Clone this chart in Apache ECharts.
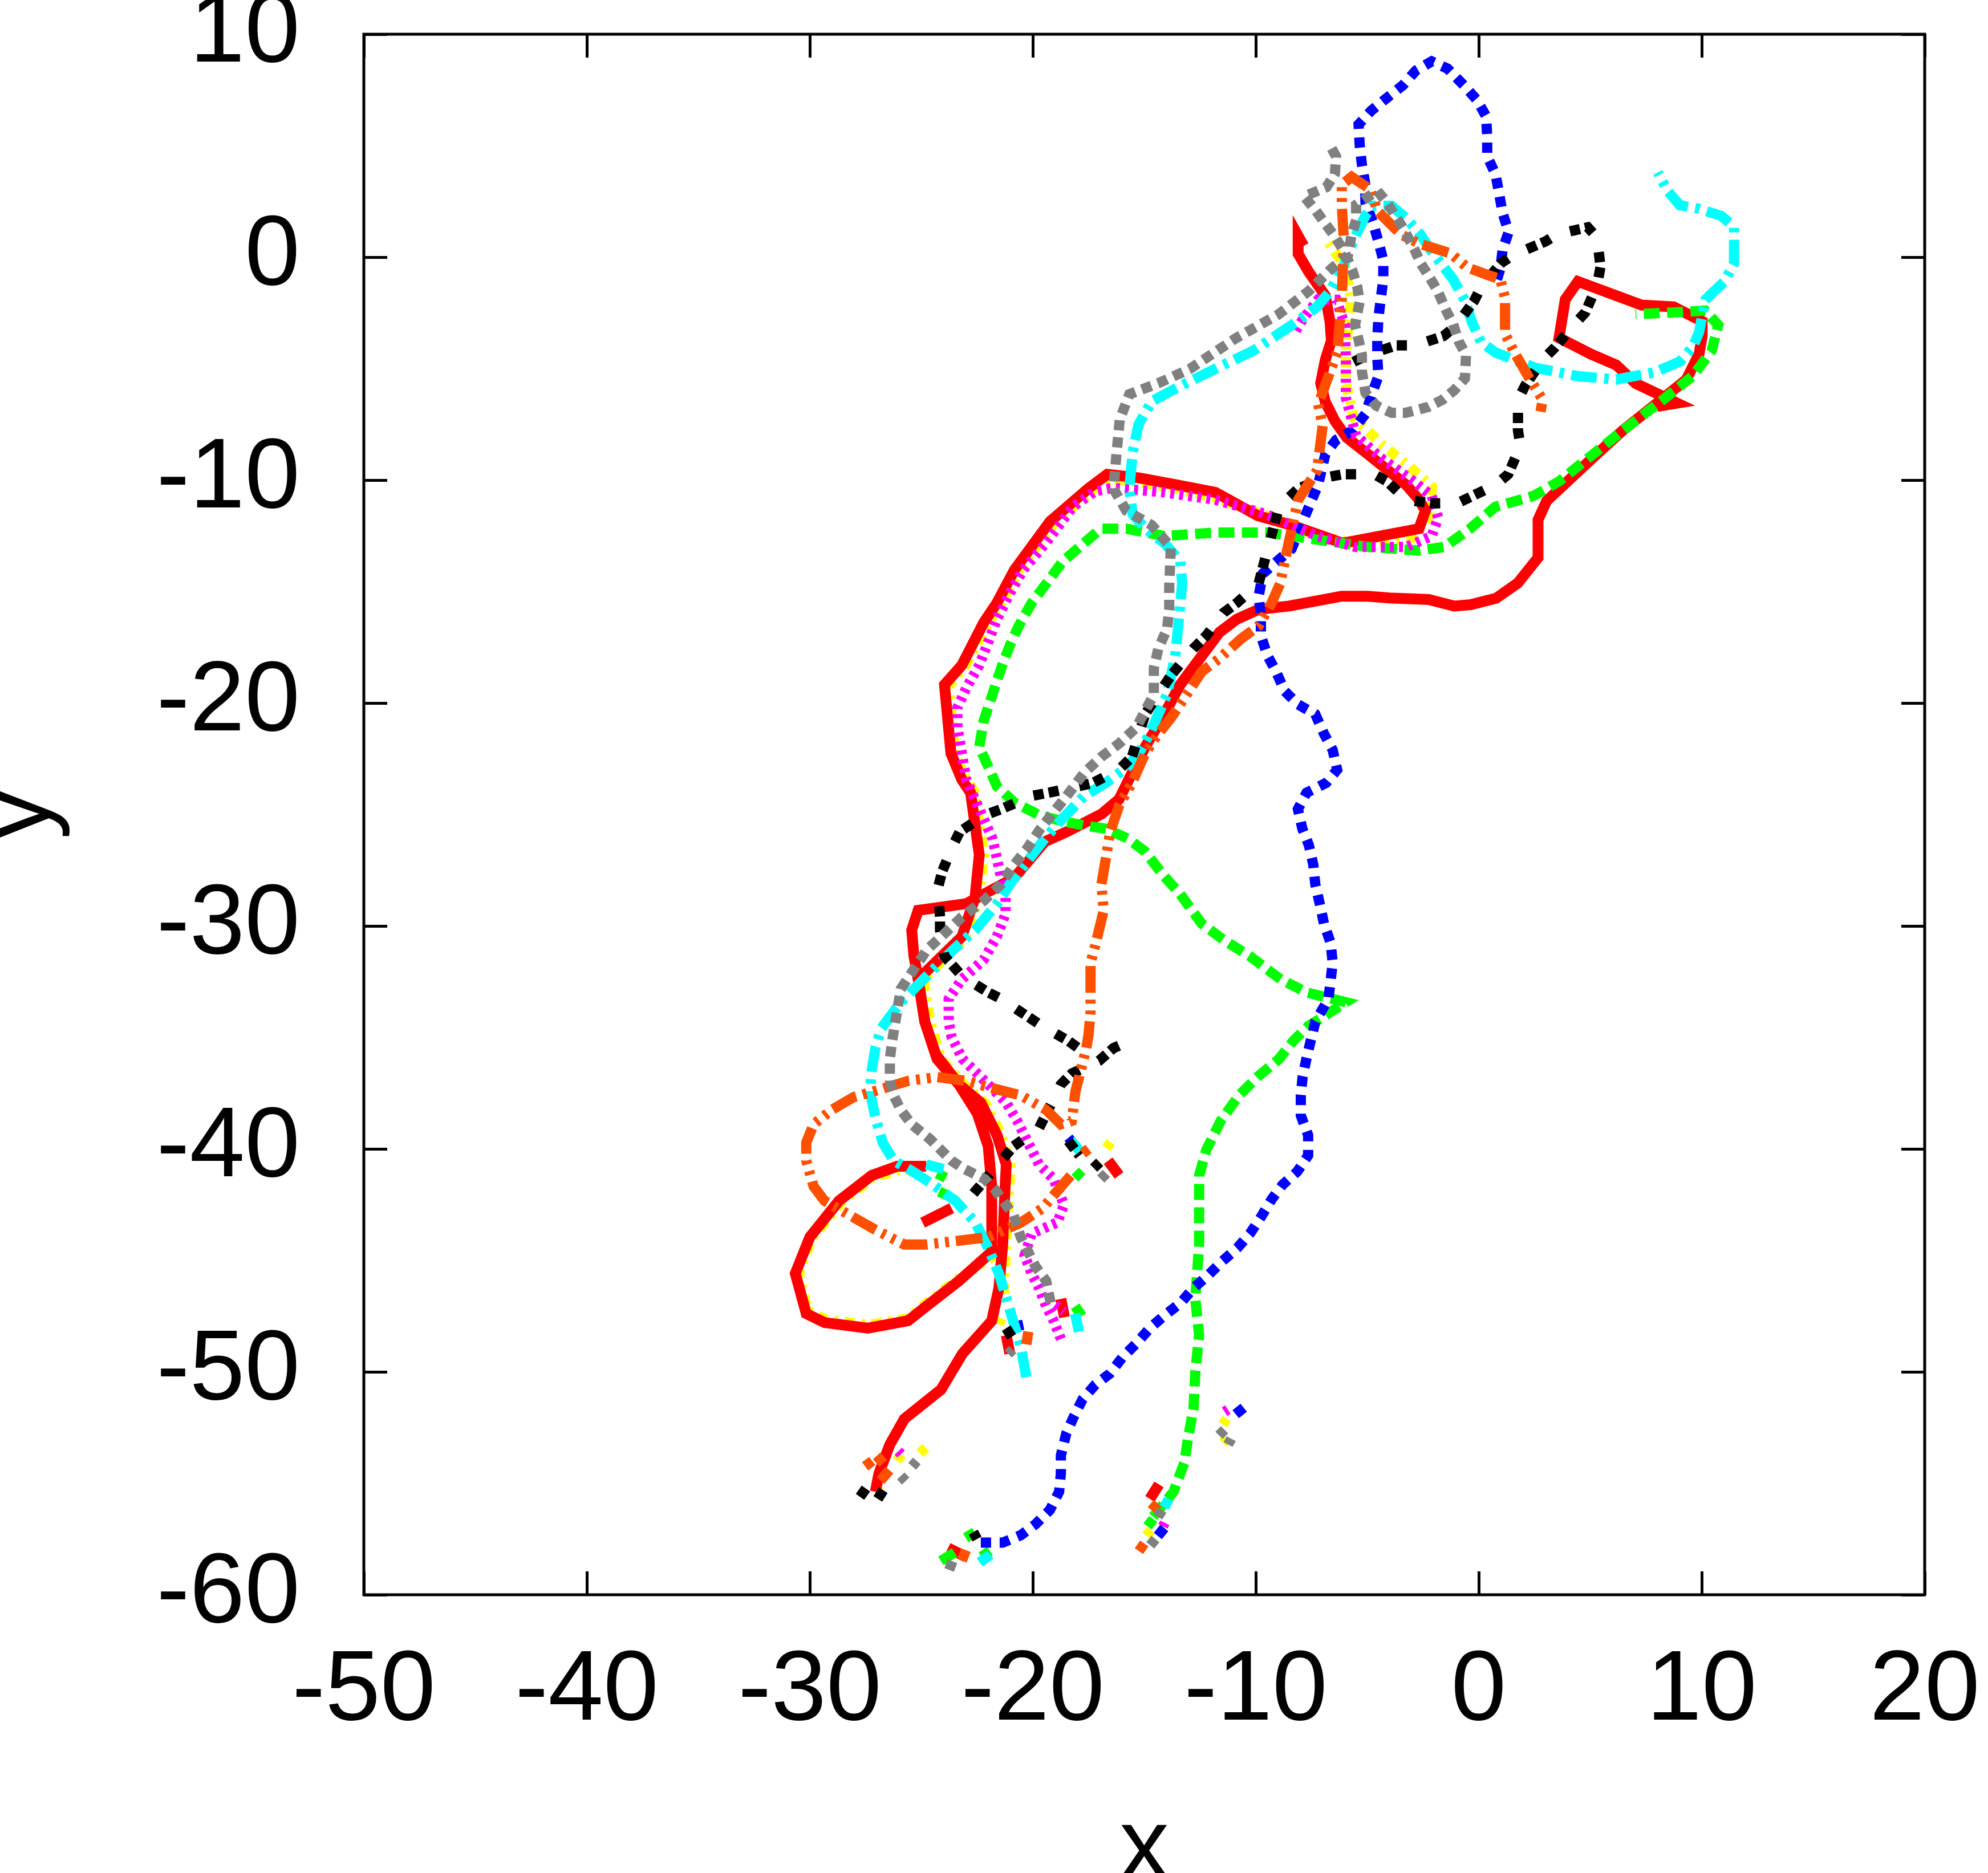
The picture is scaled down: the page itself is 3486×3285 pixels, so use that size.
<!DOCTYPE html>
<html>
<head>
<meta charset="utf-8">
<script src="https://cdn.jsdelivr.net/npm/echarts@6/dist/echarts.min.js"></script>
<style>
  html, body { margin: 0; padding: 0; background: #fff; }
  #chart { width: 3486px; height: 3285px; }
</style>
</head>
<body>
<div id="chart"></div>
<script>
// axis ticks
var xTicks = [-50, -40, -30, -20, -10, 0, 10, 20];
var yTicks = [-60, -50, -40, -30, -20, -10, 0, 10];

// red (solid)
var redMain = [[-27.06,-55.38],[-26.9,-54.56],[-26.41,-53.26],[-25.76,-52.11],[-24.12,-50.8],[-23.15,-49.18],[-21.84,-47.71],[-21.52,-46.24],[-21.35,-44.29],[-21.27,-42.33],[-21.19,-40.7],[-21.6,-39.39],[-22.33,-37.93],[-23.31,-37.11],[-24.29,-35.97],[-24.84,-34.3],[-25.14,-32.39],[-23.18,-30.48],[-22.59,-28.72],[-22.4,-26.81],[-22.79,-24.02],[-23.18,-23.44],[-23.67,-22.26],[-23.96,-19.18],[-23.18,-18.3],[-22.2,-16.39],[-21.61,-15.51],[-20.83,-14.04],[-19.23,-11.86],[-17.52,-10.39],[-16.66,-9.74],[-15.24,-9.9],[-13.52,-10.22],[-11.81,-10.55],[-9.9,-11.6],[-8.39,-12.02],[-6.1,-12.83],[-2.68,-12.18],[-2.39,-11.37],[-2.68,-10.88],[-3.25,-10.22],[-4.97,-8.84],[-5.92,-8.09],[-6.45,-7.35],[-6.88,-6.5],[-7.09,-5.66],[-6.88,-4.6],[-6.61,-3.75],[-6.67,-2.9],[-6.88,-1.73],[-7.62,-0.67],[-8.1,0.15],[-8.1,0.95],[-7.85,0.5]];
var redLoop = [[-24.78,-40.78],[-26.08,-40.78],[-27.22,-41.19],[-28.69,-42.33],[-30.0,-43.96],[-30.65,-45.59],[-30.16,-47.39],[-29.34,-47.79],[-27.39,-48.04],[-25.59,-47.71],[-24.78,-47.06],[-23.31,-45.92],[-21.84,-44.61],[-21.84,-41.68],[-22.0,-39.88],[-22.49,-38.41],[-23.31,-37.11],[-24.35,-35.77],[-24.84,-34.3],[-25.14,-32.39],[-25.33,-31.36],[-25.43,-30.19],[-25.14,-29.3],[-22.98,-29.0],[-20.83,-27.84],[-19.46,-26.22],[-18.48,-25.78],[-16.92,-24.98],[-16.13,-24.32],[-15.55,-23.14],[-14.96,-21.97],[-14.18,-20.65],[-13.39,-19.18],[-11.63,-16.83],[-10.85,-16.24],[-9.87,-15.8],[-8.5,-15.65],[-6.15,-15.21],[-4.98,-15.21],[-4.0,-15.29],[-2.24,-15.36],[-1.1,-15.65],[-0.36,-15.59],[0.78,-15.3],[1.75,-14.62],[2.66,-13.48],[2.66,-11.78],[3.05,-10.93],[5.03,-9.08],[6.45,-7.78],[7.88,-6.64],[9.31,-5.49],[9.88,-4.35],[10.02,-3.54],[10.02,-2.88],[8.74,-2.23],[7.31,-2.15],[4.45,-1.09],[3.88,-1.9],[3.6,-3.62],[5.03,-4.35],[6.17,-4.84],[7.03,-5.66],[8.9,-6.55],[8.0,-6.7]];
var redStubs = [[[-24.94,-43.31],[-23.64,-42.66]],[[-16.62,-40.53],[-16.13,-41.19]],[[-18.74,-46.73],[-18.58,-47.55]],[[-21.19,-48.36],[-21.03,-49.18]],[[-14.34,-55.05],[-14.75,-55.7]],[[-23.8,-57.9],[-23.0,-58.3]]];

// green (dashed)
var greenMain = [[-14.6,-56.5],[-13.69,-55.38],[-13.2,-54.07],[-13.03,-52.93],[-12.79,-51.63],[-12.71,-49.99],[-12.54,-48.36],[-12.71,-46.73],[-12.54,-44.29],[-12.54,-41.19],[-12.22,-40.05],[-11.57,-38.74],[-10.75,-37.6],[-9.93,-36.78],[-8.96,-35.97],[-8.31,-35.15],[-7.65,-34.5],[-5.96,-33.42],[-7.72,-32.98],[-8.89,-32.39],[-10.26,-31.36],[-11.44,-30.63],[-12.42,-29.9],[-13.39,-28.57],[-14.18,-27.69],[-14.96,-26.66],[-15.74,-26.08],[-16.72,-25.64],[-17.7,-25.49],[-18.48,-25.34],[-19.66,-25.05],[-20.83,-24.46],[-21.61,-23.73],[-22.0,-22.85],[-22.4,-21.97],[-22.2,-20.79],[-21.81,-19.62],[-21.42,-18.44],[-21.03,-17.42],[-20.63,-16.54],[-20.05,-15.51],[-19.27,-14.48],[-18.66,-13.65],[-16.95,-12.18],[-15.81,-12.18],[-14.1,-12.51],[-11.81,-12.35],[-9.53,-12.35],[-7.25,-12.67],[-4.96,-13.0],[-2.68,-13.16],[-1.54,-13.0],[-0.39,-12.18],[0.74,-11.2],[2.46,-10.71],[3.6,-10.06],[5.03,-8.92],[6.45,-7.78],[8.17,-6.47],[9.6,-5.33],[10.45,-4.19],[10.74,-3.05],[10.16,-2.4],[8.74,-2.48],[7.03,-2.56]];
var greenStubs = [[[-24.12,-58.48],[-23.5,-58.1]],[[-23.01,-57.44],[-22.6,-57.2]],[[-21.92,-58.04],[-22.3,-58.3]],[[-18.1,-47.06],[-17.8,-47.5]],[[-24.29,-41.1],[-23.9,-41.3]],[[-24.2,-41.92],[-23.8,-42.1]],[[-18.1,-41.0],[-17.8,-41.3]],[[-14.85,-56.93],[-14.6,-56.6]]];

// blue (dotted)
var blueMain = [[-22.33,-57.66],[-21.35,-57.66],[-20.54,-57.33],[-19.88,-56.84],[-19.23,-56.19],[-18.82,-55.38],[-18.74,-54.56],[-18.74,-53.75],[-18.5,-52.77],[-18.17,-52.03],[-17.76,-51.22],[-17.19,-50.57],[-16.54,-50.08],[-15.97,-49.34],[-15.32,-48.69],[-14.75,-48.04],[-14.09,-47.47],[-13.36,-46.9],[-12.79,-46.24],[-12.14,-45.67],[-11.48,-45.02],[-10.83,-44.45],[-10.26,-43.8],[-9.77,-43.06],[-9.28,-42.25],[-8.79,-41.6],[-8.14,-41.02],[-7.65,-40.29],[-7.65,-39.39],[-7.98,-38.5],[-7.98,-37.6],[-7.9,-36.78],[-7.72,-35.91],[-7.33,-34.3],[-6.74,-33.27],[-6.55,-31.66],[-6.64,-30.77],[-6.94,-29.9],[-7.13,-29.01],[-7.33,-28.13],[-7.42,-27.25],[-7.62,-26.37],[-7.91,-25.64],[-8.11,-24.76],[-7.72,-24.02],[-6.84,-23.58],[-6.35,-22.99],[-6.55,-22.11],[-6.94,-21.38],[-7.33,-20.5],[-8.11,-20.06],[-8.7,-19.47],[-9.09,-18.59],[-9.48,-17.86],[-9.77,-16.98],[-9.77,-16.1],[-9.87,-15.21],[-9.68,-14.19],[-8.39,-13.08],[-7.82,-11.69],[-7.2,-10.2],[-6.88,-8.84],[-6.4,-8.2],[-5.66,-7.78],[-5.08,-7.03],[-4.81,-6.19],[-4.5,-5.34],[-4.55,-4.49],[-4.55,-3.64],[-4.5,-2.74],[-4.39,-1.84],[-4.28,-1.0],[-4.28,-0.14],[-4.5,0.7],[-4.76,1.6],[-5.08,2.45],[-5.1,3.35],[-5.24,4.15],[-5.34,5.05],[-5.39,5.95],[-4.82,6.57],[-4.11,7.15],[-3.39,7.72],[-2.82,8.37],[-2.11,8.78],[-1.39,8.45],[-0.68,7.72],[-0.09,7.06],[0.33,6.32],[0.38,5.42],[0.38,4.52],[0.75,3.73],[0.91,2.88],[1.07,1.98],[1.34,1.13],[1.07,0.33],[0.97,-0.52],[0.7,-1.36]];
var blueStubs = [[[-10.9,-51.9],[-10.4,-51.5]],[[-14.39,-57.36],[-14.1,-57.0]],[[-20.7,-47.71],[-20.6,-48.2]],[[-18.4,-39.5],[-18.0,-40.0]]];

// magenta (fine dots)
var magentaMain = [[-18.74,-48.53],[-19.07,-47.7],[-19.4,-47.06],[-19.72,-46.24],[-20.05,-45.59],[-20.37,-44.78],[-20.05,-43.8],[-18.9,-43.3],[-18.6,-42.5],[-19.07,-41.35],[-19.72,-40.7],[-20.21,-39.72],[-20.7,-38.74],[-21.19,-37.93],[-21.84,-37.27],[-22.49,-36.62],[-23.15,-35.97],[-23.64,-34.99],[-23.77,-34.3],[-23.77,-33.27],[-23.18,-32.39],[-22.2,-31.51],[-21.61,-30.48],[-21.22,-29.45],[-21.22,-28.57],[-21.42,-27.84],[-21.61,-26.96],[-21.81,-26.08],[-22.2,-25.2],[-22.59,-24.32],[-22.98,-23.44],[-23.18,-22.26],[-23.38,-21.09],[-23.38,-20.21],[-22.98,-19.32],[-22.4,-18.3],[-22.0,-17.27],[-21.61,-16.24],[-21.03,-15.07],[-20.44,-14.04],[-19.4,-12.8],[-18.2,-11.2],[-17.2,-10.5],[-16.4,-10.35],[-14.1,-10.55],[-11.81,-10.88],[-9.53,-11.53],[-7.25,-12.51],[-5.53,-13.0],[-3.25,-13.0],[-2.11,-12.51],[-1.82,-11.69],[-2.11,-10.71],[-3.0,-10.0],[-4.4,-9.0],[-5.5,-8.0],[-5.96,-6.31],[-5.96,-4.68],[-6.0,-3.05],[-6.39,-1.91],[-7.2,-1.9],[-7.9,-2.8],[-8.2,-3.3]];
var magentaStubs = [[[-26.03,-53.56],[-25.8,-53.8]],[[-14.16,-56.93],[-13.99,-56.59]],[[-11.4,-51.79],[-11.1,-51.6]],[[-19.0,-47.0],[-18.6,-47.3]]];

// cyan (dash-dot)
var cyanMain = [[-20.29,-50.24],[-20.54,-48.85],[-21.03,-47.22],[-21.52,-45.59],[-22.0,-44.45],[-22.57,-43.31],[-23.47,-42.33],[-24.61,-41.51],[-25.4,-41.0],[-26.24,-40.53],[-26.73,-39.72],[-27.06,-38.58],[-27.3,-37.44],[-27.22,-36.46],[-27.06,-35.48],[-26.8,-34.6],[-25.92,-33.42],[-24.75,-32.24],[-23.57,-31.07],[-22.59,-30.19],[-21.61,-29.01],[-21.03,-28.13],[-20.25,-27.1],[-19.46,-26.08],[-18.68,-25.2],[-17.7,-24.17],[-16.72,-23.58],[-15.74,-22.85],[-15.16,-22.11],[-14.76,-21.38],[-14.37,-20.5],[-13.98,-19.62],[-13.79,-18.74],[-13.59,-17.71],[-13.49,-16.68],[-13.39,-15.65],[-13.3,-14.63],[-13.38,-13.65],[-14.1,-12.83],[-14.95,-12.18],[-15.52,-11.53],[-15.67,-10.39],[-15.52,-8.76],[-15.26,-7.51],[-14.67,-6.47],[-13.44,-5.81],[-11.81,-5.01],[-10.1,-4.19],[-8.39,-3.05],[-7.25,-2.23],[-6.67,-1.52],[-6.1,-0.5],[-5.8,0.3],[-5.5,1.0],[-5.08,1.87],[-4.76,2.3],[-3.91,2.3],[-3.27,1.76],[-2.6,1.0],[-2.21,0.39],[-1.15,-0.99],[-0.62,-1.95],[-0.31,-2.9],[0.1,-3.8],[0.75,-4.28],[2.56,-4.97],[4.46,-5.34],[6.17,-5.49],[7.88,-5.17],[9.02,-4.68],[9.6,-4.03],[9.88,-3.37],[10.16,-1.91],[11.02,-1.09],[11.45,-0.28],[11.45,1.36],[10.88,1.85],[9.88,2.17],[9.02,2.33],[8.45,2.99],[8.03,3.8]];
var cyanStubs = [[[-18.1,-47.39],[-17.93,-48.2]],[[-22.38,-58.55],[-21.9,-58.2]],[[-14.1,-56.08],[-13.9,-55.7]],[[-24.78,-40.7],[-24.0,-40.9]],[[-18.3,-39.6],[-17.9,-40.1]]];

// yellow (dotted)
var yellowLoop = [[-21.6,-44.7],[-23.3,-45.8],[-24.8,-46.95],[-25.6,-47.6],[-27.4,-47.9],[-29.3,-47.65],[-30.1,-47.25],[-30.5,-45.6],[-29.9,-44.0],[-28.6,-42.4],[-27.2,-41.3],[-26.0,-40.95],[-24.9,-40.95]];
var yellowMain = [[-21.3,-46.5],[-21.2,-44.3],[-21.1,-42.3],[-21.0,-40.7],[-21.4,-39.4],[-22.1,-38.0],[-23.1,-37.1],[-24.1,-36.0],[-24.6,-34.3],[-24.9,-32.4],[-23.0,-30.5],[-22.4,-28.7],[-22.2,-26.8],[-22.6,-24.0],[-23.0,-23.4],[-23.5,-22.3],[-23.75,-19.2],[-23.0,-18.3],[-22.0,-16.4],[-21.4,-15.5],[-20.6,-14.0],[-19.0,-11.9],[-17.3,-10.45],[-16.5,-9.95],[-15.2,-10.1],[-13.5,-10.4],[-11.8,-10.8],[-9.5,-11.6],[-7.2,-12.5],[-5.3,-12.9],[-3.0,-12.6],[-2.2,-11.6],[-2.1,-10.3],[-3.1,-9.4],[-4.33,-8.41],[-5.61,-7.19],[-5.98,-5.55],[-5.92,-3.7],[-5.71,-1.95],[-6.03,-0.36],[-6.77,0.7]];
var yellowStubs = [[[-25.06,-53.65],[-24.8,-53.4]],[[-26.09,-53.99],[-25.9,-53.7]],[[-27.06,-55.4],[-26.9,-55.1]],[[-14.9,-57.36],[-14.7,-57.1]],[[-11.48,-52.36],[-11.3,-52.1]],[[-11.48,-53.18],[-11.3,-53.0]],[[-21.52,-47.87],[-21.4,-47.6]],[[-16.7,-39.96],[-16.5,-39.7]]];

// black (dot pairs)
var blackMain = [[-18.0,-35.45],[-18.41,-35.15],[-19.66,-34.44],[-21.42,-33.27],[-22.0,-32.98],[-23.18,-32.24],[-23.96,-31.36],[-24.16,-30.19],[-24.16,-29.6],[-24.25,-28.28],[-24.06,-27.55],[-23.57,-26.37],[-23.28,-25.78],[-22.2,-25.05],[-21.42,-24.76],[-20.05,-24.17],[-19.27,-24.02],[-17.9,-23.73],[-17.3,-23.58],[-16.13,-22.99],[-15.55,-22.41],[-14.96,-20.5],[-13.79,-18.74],[-12.81,-17.57],[-12.22,-16.98],[-11.44,-15.95],[-10.85,-15.51],[-9.87,-14.63],[-9.6,-13.6],[-9.3,-12.5],[-8.96,-11.2],[-8.1,-10.39],[-6.96,-9.9],[-6.1,-9.74],[-4.68,-9.74],[-4.11,-10.06],[-3.25,-10.88],[-2.11,-11.04],[-0.97,-11.04],[0.75,-10.22],[1.32,-9.74],[1.87,-8.46],[1.76,-7.78],[1.76,-6.4],[2.08,-5.76],[2.87,-4.6],[3.4,-4.07],[4.3,-3.0],[4.78,-2.48],[5.31,-1.25],[5.46,-0.44],[5.31,0.87],[4.89,1.34],[3.51,1.02],[2.98,0.7],[1.6,0.12],[1.02,-0.25],[0.12,-1.31],[-0.2,-1.95],[-1.05,-3.11],[-1.58,-3.54],[-2.85,-3.96],[-3.7,-3.96],[-4.97,-4.38],[-5.61,-4.7]];
var blackLower = [[-22.66,-42.0],[-20.86,-39.88],[-19.72,-39.07],[-18.74,-37.11],[-18.25,-36.62],[-17.03,-36.05],[-16.38,-35.48],[-15.64,-35.15]];
var blackStubs = [[[-27.75,-55.61],[-27.35,-55.05]],[[-26.95,-55.7],[-26.7,-55.3]],[[-21.19,-48.04],[-20.9,-48.5]],[[-18.41,-39.64],[-17.9,-40.3]],[[-17.27,-40.86],[-17.0,-40.6]],[[-22.67,-57.19],[-22.5,-57.5]]];

// orange (dash-dot-dot)
var orangeMain = [[-18.3,-41.2],[-19.0,-42.0],[-19.56,-42.66],[-20.54,-43.31],[-22.0,-43.96],[-24.78,-44.29],[-25.76,-44.29],[-27.06,-43.63],[-28.2,-42.98],[-29.34,-42.33],[-29.83,-41.68],[-30.16,-40.53],[-30.16,-39.72],[-29.83,-38.9],[-29.02,-38.25],[-28.04,-37.68],[-26.9,-37.35],[-25.59,-36.95],[-24.29,-36.78],[-22.98,-36.95],[-21.84,-37.27],[-20.54,-37.6],[-19.4,-38.25],[-18.74,-38.9],[-18.25,-38.74],[-18.09,-37.44],[-17.76,-36.13],[-17.6,-35.48],[-17.5,-34.89],[-17.41,-33.86],[-17.41,-32.68],[-17.41,-31.66],[-17.21,-30.92],[-16.82,-29.31],[-16.92,-28.13],[-16.72,-26.96],[-16.53,-25.78],[-16.13,-24.61],[-15.55,-23.58],[-14.96,-22.26],[-14.37,-21.38],[-13.79,-20.65],[-13.2,-19.77],[-12.42,-18.59],[-11.63,-18.0],[-10.66,-17.12],[-9.87,-16.54],[-9.29,-15.51],[-8.9,-14.63],[-8.67,-13.49],[-8.1,-10.88],[-7.25,-9.57],[-7.0,-7.56],[-7.2,-6.6],[-6.35,-4.28],[-6.14,-1.84],[-6.05,0.81],[-6.14,2.3],[-6.14,3.25],[-5.7,3.6],[-4.86,3.04],[-4.55,2.08],[-3.49,1.02],[-2.64,0.6],[-1.26,0.17],[-0.52,-0.46],[0.4,-0.8],[0.97,-0.99],[1.18,-1.84],[1.18,-3.43],[1.6,-4.28],[2.34,-5.55],[2.87,-6.4],[2.77,-6.93]];
var orangeStubs = [[[-27.52,-54.24],[-27.2,-54.0]],[[-27.0,-53.77],[-26.7,-54.1]],[[-26.83,-54.88],[-26.43,-54.41]],[[-15.24,-58.04],[-15.0,-57.7]],[[-14.67,-56.21],[-14.4,-55.9]],[[-23.18,-58.47],[-23.0,-58.0]],[[-20.29,-48.77],[-20.2,-48.2]],[[-17.76,-40.2],[-17.5,-40.0]]];

// gray (dotted)
var grayMain = [[-19.2,-46.9],[-19.4,-45.92],[-19.88,-45.27],[-20.21,-44.61],[-20.54,-43.96],[-20.86,-42.98],[-21.68,-41.84],[-22.16,-41.35],[-23.15,-40.86],[-23.64,-40.53],[-24.12,-40.05],[-24.61,-39.56],[-25.43,-38.9],[-25.92,-38.25],[-26.24,-37.6],[-26.41,-36.95],[-26.41,-35.97],[-26.31,-35.18],[-25.92,-32.83],[-24.75,-31.07],[-23.96,-30.34],[-23.18,-29.6],[-22.2,-28.87],[-21.42,-28.13],[-20.83,-27.25],[-20.25,-26.52],[-19.66,-25.64],[-19.07,-24.9],[-18.48,-24.17],[-17.7,-23.14],[-16.92,-22.41],[-16.13,-21.82],[-15.35,-21.09],[-14.96,-20.35],[-14.57,-19.62],[-14.57,-18.44],[-14.37,-17.56],[-13.98,-16.68],[-13.88,-15.8],[-13.88,-14.77],[-13.81,-13.0],[-14.67,-12.02],[-15.81,-11.37],[-16.38,-10.39],[-16.24,-8.76],[-16.1,-7.29],[-15.67,-6.15],[-14.38,-5.66],[-12.95,-5.01],[-10.9,-3.64],[-9.0,-2.58],[-7.62,-1.52],[-6.61,-0.52],[-5.87,0.07],[-5.71,0.97],[-5.5,1.66],[-5.5,2.35],[-4.55,2.98],[-4.12,2.45],[-3.75,1.87],[-3.38,1.29],[-2.85,0.28],[-2.59,-0.3],[-2.21,-0.89],[-1.84,-1.52],[-1.42,-2.48],[-1.15,-3.0],[-0.89,-3.8],[-0.57,-4.38],[-0.62,-5.44],[-1.1,-5.97],[-1.63,-6.4],[-2.27,-6.72],[-3.27,-6.98],[-3.91,-6.98],[-4.6,-6.66],[-5.08,-6.08],[-5.24,-5.13],[-5.24,-4.38],[-5.39,-3.7],[-5.55,-3.06],[-5.34,-2.0],[-5.45,-1.31],[-5.66,-0.62],[-6.0,0.2],[-6.45,0.92],[-6.88,1.5],[-7.3,2.08],[-7.83,2.72],[-6.83,3.14],[-6.45,3.73],[-6.4,4.52],[-6.72,5.1]];
var grayStubs = [[[-25.41,-54.24],[-25.2,-54.0]],[[-25.92,-54.67],[-25.7,-54.9]],[[-23.75,-58.89],[-23.6,-58.5]],[[-14.39,-56.5],[-14.2,-56.2]],[[-14.73,-57.78],[-14.5,-57.5]],[[-11.65,-52.85],[-11.4,-52.6]],[[-11.24,-53.26],[-11.1,-53.0]],[[-16.95,-41.35],[-16.7,-41.1]],[[-21.1,-49.2],[-20.9,-49.0]]];

// plot order: yellow sits underneath, gray ends on top
var tracks = [
  { color: '#ffff00', width: 18, dash: [18, 12, 6, 12], paths: [yellowLoop, yellowMain].concat(yellowStubs) },
  { color: '#ff0000', width: 19, dash: 'solid', paths: [redMain, redLoop].concat(redStubs) },
  { color: '#00ff00', width: 18, dash: [28, 13], paths: [greenMain].concat(greenStubs) },
  { color: '#0000ff', width: 18, dash: [18, 15], paths: [blueMain].concat(blueStubs) },
  { color: '#ff00ff', width: 18, dash: [7, 9], paths: [magentaMain].concat(magentaStubs) },
  { color: '#00ffff', width: 18, dash: [45, 13, 8, 13], paths: [cyanMain].concat(cyanStubs) },
  { color: '#000000', width: 18, dash: [18, 9, 18, 37], paths: [blackMain, blackLower].concat(blackStubs) },
  { color: '#ff5000', width: 18, dash: [47, 12, 7, 12, 7, 12], paths: [orangeMain].concat(orangeStubs) },
  { color: '#808080', width: 18, dash: [18, 12], paths: [grayMain].concat(grayStubs) }
];

var series = [];
tracks.forEach(function (t) {
  t.paths.forEach(function (p) {
    series.push({
      type: 'line',
      data: p,
      symbol: 'none',
      showSymbol: false,
      silent: true,
      lineStyle: { color: t.color, width: t.width, type: t.dash, cap: 'butt', join: 'miter', miterLimit: 10 }
    });
  });
});

var font = 'Liberation Sans, Arial, Helvetica, sans-serif';
var tickStyle = { show: true, inside: true, length: 41, lineStyle: { color: '#000', width: 5 } };
var noLine = { show: false, onZero: false };

var myChart = echarts.init(document.getElementById('chart'), null, { renderer: 'canvas' });
myChart.setOption({
  animation: false,
  backgroundColor: '#fff',
  grid: {
    left: 638, top: 60, width: 2737, height: 2737,
    containLabel: false, outerBoundsMode: 'none',
    show: true, borderColor: '#000', borderWidth: 5, backgroundColor: 'transparent'
  },
  xAxis: [
    {
      type: 'value', min: -50, max: 20, interval: 10, position: 'bottom',
      axisLine: noLine,
      axisTick: tickStyle,
      splitLine: { show: false },
      axisLabel: { fontSize: 174, color: '#000', fontFamily: font, margin: 84,
        formatter: function (v) { return xTicks.indexOf(v) >= 0 ? String(v) : ''; } },
      name: 'x', nameLocation: 'middle', nameGap: 361,
      nameTextStyle: { fontSize: 174, color: '#000', fontFamily: font }
    },
    {
      type: 'value', min: -50, max: 20, interval: 10, position: 'top',
      axisLine: noLine, axisTick: tickStyle,
      axisLabel: { show: false }, splitLine: { show: false }
    }
  ],
  yAxis: [
    {
      type: 'value', min: -60, max: 10, interval: 10, position: 'left',
      axisLine: noLine,
      axisTick: tickStyle,
      splitLine: { show: false },
      axisLabel: { fontSize: 174, color: '#000', fontFamily: font, margin: 112,
        formatter: function (v) { return yTicks.indexOf(v) >= 0 ? String(v) : ''; } },
      name: 'y', nameLocation: 'middle', nameGap: 513, nameRotate: 90,
      nameTextStyle: { fontSize: 174, color: '#000', fontFamily: font }
    },
    {
      type: 'value', min: -60, max: 10, interval: 10, position: 'right',
      axisLine: noLine, axisTick: tickStyle,
      axisLabel: { show: false }, splitLine: { show: false }
    }
  ],
  series: series
});
</script>
</body>
</html>
